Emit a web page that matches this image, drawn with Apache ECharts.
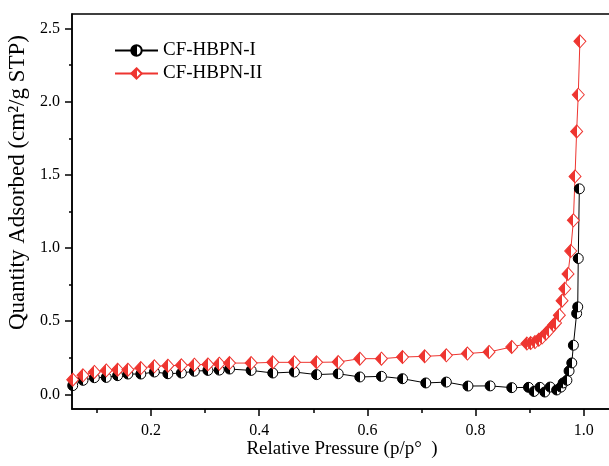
<!DOCTYPE html>
<html>
<head>
<meta charset="utf-8">
<script src="https://cdn.jsdelivr.net/npm/echarts@6/dist/echarts.min.js"></script>
<style>html,body{margin:0;padding:0;background:#fff}#c{width:609px;height:466px}</style>
</head>
<body>
<div id="c"></div>
<script>
var seriesNames = ['CF-HBPN-I', 'CF-HBPN-II'];
var xI = [0.055,0.074,0.095,0.117,0.138,0.157,0.181,0.206,0.231,0.256,0.280,0.305,0.326,0.345,0.385,0.425,0.465,0.506,0.546,0.586,0.626,0.665,0.708,0.746,0.786,0.827,0.867,0.898,0.908,0.919,0.928,0.938,0.950,0.958,0.962,0.969,0.973,0.978,0.981,0.987,0.989,0.990,0.992];
var yI = [0.06,0.096,0.114,0.116,0.128,0.139,0.139,0.153,0.141,0.146,0.158,0.164,0.166,0.173,0.164,0.146,0.153,0.135,0.141,0.119,0.123,0.107,0.078,0.084,0.057,0.058,0.046,0.048,0.020,0.048,0.016,0.050,0.030,0.050,0.078,0.096,0.160,0.215,0.336,0.553,0.598,0.929,1.405];
var xII = [0.055,0.074,0.095,0.117,0.138,0.157,0.181,0.206,0.231,0.256,0.280,0.305,0.326,0.345,0.385,0.425,0.465,0.506,0.546,0.586,0.626,0.665,0.706,0.746,0.785,0.825,0.867,0.895,0.902,0.910,0.917,0.923,0.930,0.936,0.944,0.948,0.955,0.960,0.965,0.971,0.976,0.981,0.984,0.987,0.990,0.993];
var yII = [0.100,0.130,0.153,0.164,0.169,0.169,0.180,0.192,0.196,0.199,0.203,0.205,0.210,0.214,0.214,0.219,0.219,0.219,0.221,0.244,0.244,0.255,0.260,0.267,0.279,0.290,0.324,0.347,0.351,0.358,0.374,0.388,0.415,0.438,0.473,0.488,0.541,0.640,0.722,0.823,0.980,1.190,1.490,1.797,2.048,2.413];
var xLabels = [0.2, 0.4, 0.6, 0.8, 1.0];
var xMinor = [0.1, 0.3, 0.5, 0.7, 0.9];
var yLabels = [0, 0.5, 1.0, 1.5, 2.0, 2.5];
var yMinor = [0.25, 0.75, 1.25, 1.75, 2.25];

function zip(a, b) { return a.map(function (v, i) { return [v, b[i]]; }); }
function half(c) {
  return {type: 'linear', x: 0, y: 0, x2: 1, y2: 0, colorStops: [
    {offset: 0, color: c}, {offset: 0.5, color: c}, {offset: 0.5, color: '#fff'}, {offset: 1, color: '#fff'}]};
}
var FONT = 'Liberation Serif';
var RED = '#ee3530';
var XMIN = 0.0537, XMAX = 1.0524;
var chart = echarts.init(document.getElementById('c'));
chart.setOption({
  animation: false,
  backgroundColor: '#fff',
  grid: {left: 72, top: 14, right: -3, bottom: 57, outerBoundsMode: 'none', containLabel: false,
    show: true, borderColor: '#000', borderWidth: 1.5, backgroundColor: 'transparent'},
  legend: {
    orient: 'vertical', left: 109, top: 36, itemWidth: 43, itemHeight: 13, itemGap: 4,
    textStyle: {fontFamily: FONT, fontSize: 19, color: '#000'},
    data: seriesNames
  },
  xAxis: [{
    type: 'value', min: XMIN, max: XMAX, position: 'bottom',
    name: 'Relative Pressure (p/p\u00b0  )', nameLocation: 'middle', nameGap: 31, nameMoveOverlap: false,
    nameTextStyle: {fontFamily: FONT, fontSize: 19, color: '#000'},
    axisLine: {show: true, onZero: false, lineStyle: {color: '#000', width: 1.5}},
    axisTick: {show: true, inside: false, length: 7, customValues: xLabels, lineStyle: {color: '#000', width: 1.5}},
    axisLabel: {customValues: xLabels, alignMinLabel: 'center', alignMaxLabel: 'center',
      fontFamily: FONT, fontSize: 16, color: '#000', margin: 14,
      formatter: function (v) { return v.toFixed(1); }},
    splitLine: {show: false}
  }, {
    type: 'value', min: XMIN, max: XMAX, position: 'bottom', gridIndex: 0,
    axisLine: {show: false, onZero: false},
    axisTick: {show: true, inside: false, length: 4, customValues: xMinor, lineStyle: {color: '#000', width: 1.5}},
    axisLabel: {show: false},
    splitLine: {show: false}
  }],
  yAxis: [{
    type: 'value', min: -0.1, max: 2.6, position: 'left',
    name: 'Quantity Adsorbed (cm\u00b2/g STP)', nameLocation: 'middle', nameGap: 36, nameRotate: 90,
    nameTextStyle: {fontFamily: FONT, fontSize: 23, color: '#000', padding: [0, 0, 0, 58]},
    axisLine: {show: true, onZero: false, lineStyle: {color: '#000', width: 1.5}},
    axisTick: {show: true, inside: false, length: 7, customValues: yLabels, lineStyle: {color: '#000', width: 1.5}},
    axisLabel: {customValues: yLabels, verticalAlignMinLabel: 'middle', verticalAlignMaxLabel: 'middle',
      fontFamily: FONT, fontSize: 16, color: '#000', margin: 12,
      formatter: function (v) { return v.toFixed(1); }},
    splitLine: {show: false}
  }, {
    type: 'value', min: -0.1, max: 2.6, position: 'left', gridIndex: 0,
    axisLine: {show: false, onZero: false},
    axisTick: {show: true, inside: false, length: 3, customValues: yMinor, lineStyle: {color: '#000', width: 1.5}},
    axisLabel: {show: false},
    splitLine: {show: false}
  }],
  series: [{
    name: seriesNames[0], type: 'line', xAxisIndex: 0, yAxisIndex: 0,
    data: zip(xI, yI), symbol: 'circle', symbolSize: 10,
    lineStyle: {color: '#000', width: 1},
    itemStyle: {color: half('#000'), borderColor: '#000', borderWidth: 1},
    emphasis: {disabled: true}
  }, {
    name: seriesNames[1], type: 'line', xAxisIndex: 0, yAxisIndex: 0,
    data: zip(xII, yII), symbol: 'diamond', symbolSize: [12, 13],
    lineStyle: {color: RED, width: 1},
    itemStyle: {color: half(RED), borderColor: RED, borderWidth: 1},
    emphasis: {disabled: true}
  }]
});
</script>
</body>
</html>
